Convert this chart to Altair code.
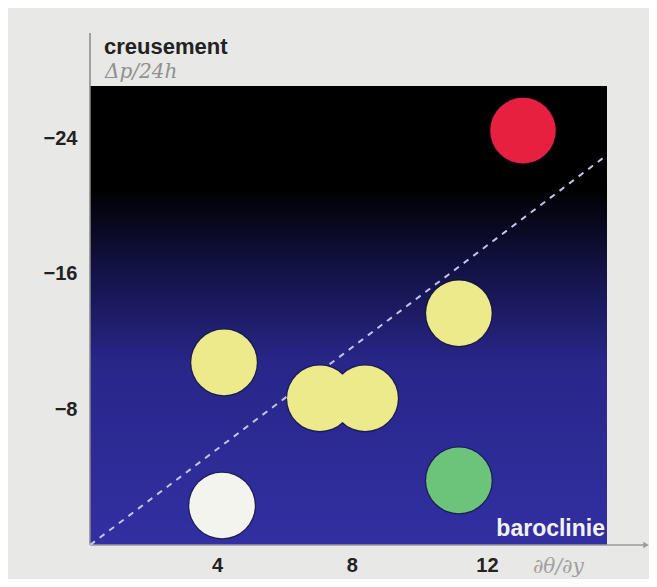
import altair as alt
import pandas as pd

# Data
bx = [13.07, 11.17, 4.21, 7.05, 8.39, 11.17, 4.15]
by = [-24.44, -13.67, -10.77, -8.65, -8.65, -3.81, -2.33]
bcol = ["#e8203f", "#ecea8a", "#ecea8a", "#ecea8a", "#ecea8a", "#6cc47a", "#f4f4ee"]
line_x = [0.24, 15.56]
line_y = [0.0, -23.0]
x_ticks = [4, 8, 12]
y_ticks = [-24, -16, -8]

W, H = 517, 459
XDOM = [0.237, 15.56]
YDOM = [-27.07, 0]

df = pd.DataFrame({"x": bx, "y": by, "c": bcol})
dl = pd.DataFrame({"x": line_x, "y": line_y})

xs = alt.Scale(domain=XDOM, nice=False, zero=False)
ys = alt.Scale(domain=YDOM, nice=False, zero=False, reverse=True)

xax = alt.Axis(values=x_ticks, title=None, grid=False, ticks=False, domain=False,
               labelFont="Liberation Sans", labelFontWeight="bold", labelFontSize=20,
               labelColor="#222222", labelPadding=10)
yax = alt.Axis(values=y_ticks, title=None, grid=False, ticks=False, domain=False,
               labelFont="Liberation Sans", labelFontWeight="bold", labelFontSize=20,
               labelColor="#222222", labelPadding=13)

grad = {
    "gradient": "linear", "x1": 0, "x2": 0, "y1": 0, "y2": 1,
    "stops": [
        {"offset": 0.0, "color": "#000000"},
        {"offset": 0.22, "color": "#000000"},
        {"offset": 0.42, "color": "#15144c"},
        {"offset": 0.6, "color": "#282688"},
        {"offset": 1.0, "color": "#3230a2"},
    ],
}

bg = alt.Chart(pd.DataFrame({"a": [0]})).mark_rect(color=grad).encode(
    x=alt.value(0), x2=alt.value(W), y=alt.value(0), y2=alt.value(H)
)

yline = alt.Chart(pd.DataFrame({"a": [0]})).mark_rule(color="#8a8a8a", strokeWidth=1.5).encode(
    x=alt.value(0), y=alt.value(-53), y2=alt.value(H)
)
xline = alt.Chart(pd.DataFrame({"a": [0]})).mark_rule(color="#9a9a9a", strokeWidth=1.5).encode(
    x=alt.value(0), x2=alt.value(556), y=alt.value(H)
)
arrow = alt.Chart(pd.DataFrame({"a": [0]})).mark_point(
    shape="triangle-right", filled=True, color="#9a9a9a", size=40, opacity=1
).encode(x=alt.value(556), y=alt.value(H))

base = alt.Chart(df)
halo = base.mark_circle(size=4650, color="#12122e", opacity=0.6).encode(
    x=alt.X("x:Q", scale=xs, axis=xax), y=alt.Y("y:Q", scale=ys, axis=yax)
)
balls = base.mark_circle(size=4300, opacity=1).encode(
    x=alt.X("x:Q", scale=xs), y=alt.Y("y:Q", scale=ys),
    color=alt.Color("c:N", scale=None)
)

dash = alt.Chart(dl).mark_line(color="#c4c4ee", strokeWidth=2, strokeDash=[6, 6], clip=True).encode(
    x=alt.X("x:Q", scale=xs), y=alt.Y("y:Q", scale=ys)
)

def txt(s, x, y, **kw):
    return alt.Chart(pd.DataFrame({"t": [s]})).mark_text(**kw).encode(
        text="t:N", x=alt.value(x), y=alt.value(y)
    )

t1 = txt("creusement", 14, -39, align="left", baseline="middle", font="Liberation Sans",
         fontWeight="bold", fontSize=22, color="#222222")
t2 = txt("Δp/24h", 15, -14, align="left", baseline="middle", font="DejaVu Serif",
         fontStyle="italic", fontSize=20, color="#909090")
t3 = txt("baroclinie", 515, 443, align="right", baseline="middle", font="Liberation Sans",
         fontWeight="bold", fontSize=23, color="#f2f2f2")
t4 = txt("∂θ/∂y", 443, 481, align="left", baseline="middle", font="DejaVu Serif",
         fontStyle="italic", fontSize=20, color="#a0a0a0")

chart = alt.layer(bg, yline, xline, arrow, halo, dash, balls, t1, t2, t3, t4).properties(
    width=W, height=H,
    autosize=alt.AutoSizeParams(type="none"),
    padding={"left": 82, "top": 78, "right": 42, "bottom": 34},
    background="#e8e8e6",
).configure_view(stroke=None)

chart.save("out.html", embed_options={"renderer": "svg", "actions": False})
